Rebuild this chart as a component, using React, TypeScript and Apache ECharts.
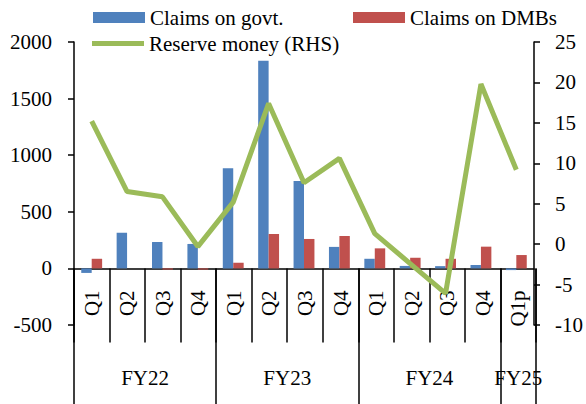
import React, { useEffect, useRef } from "react";
import * as echarts from "echarts";

const quarters = ["Q1", "Q2", "Q3", "Q4", "Q1", "Q2", "Q3", "Q4", "Q1", "Q2", "Q3", "Q4", "Q1p"];
const fyLabels = ["FY22", "FY23", "FY24", "FY25"];
const fyLabelPos = [2, 6, 10, 12.5];
const fyBoundaries = [0, 4, 8, 12, 13];
const quarterBoundaries = [0, 1, 2, 3, 4, 5, 6, 7, 8, 9, 10, 11, 12, 13];
const quarterLabelPos = [0.5, 1.5, 2.5, 3.5, 4.5, 5.5, 6.5, 7.5, 8.5, 9.5, 10.5, 11.5, 12.5];
const claimsGovt = [-40, 315, 233, 216, 885, 1835, 771, 190, 85, 22, 20, 30, -15];
const claimsDMBs = [85, 0, -10, -10, 50, 304, 260, 286, 177, 94, 85, 192, 118];
const reserveMoney = [15.2, 6.5, 5.85, -0.3, 5.2, 17.4, 7.6, 10.6, 1.3, -2.4, -6.1, 19.8, 9.2];

const FONT = "Liberation Serif";
const FS = 21;

export default function App() {
  const ref = useRef<HTMLDivElement>(null);
  useEffect(() => {
    if (!ref.current) return;
    const chart = echarts.init(ref.current, undefined, { renderer: "svg" });
    const textStyle = { fontFamily: FONT, fontSize: FS, color: "#000" };
    const legendBase = {
      orient: "horizontal",
      padding: 0,
      itemWidth: 52,
      itemHeight: 11,
      selectedMode: false,
      textStyle,
    };
    const blackLine = { color: "#000", width: 1.5 };
    chart.setOption({
      animation: false,
      textStyle: { fontFamily: FONT },
      legend: [
        { ...legendBase, data: [{ name: "Claims on govt.", icon: "rect" }], left: 93, top: 7 },
        { ...legendBase, data: [{ name: "Claims on DMBs", icon: "rect" }], left: 353, top: 7 },
        {
          ...legendBase,
          itemHeight: 5,
          data: [{ name: "Reserve money (RHS)", icon: "rect" }],
          left: 92,
          top: 33,
        },
      ],
      grid: [
        { left: 74, right: 50, top: 42, bottom: 79 },
        { left: 74, right: 50, top: 42, bottom: 135.6 },
        { left: 74, right: 50, top: 42, bottom: 135.6 },
      ],
      xAxis: [
        {
          type: "category",
          gridIndex: 0,
          data: quarters,
          axisLine: { onZero: true, onZeroAxisIndex: 0, lineStyle: blackLine },
          axisTick: { show: false },
          axisLabel: { show: false },
          splitLine: { show: false },
        },
        {
          type: "value",
          gridIndex: 1,
          min: 0,
          max: 13,
          position: "bottom",
          axisLine: { show: false, onZero: false },
          axisTick: { show: true, customValues: fyBoundaries, length: 136, lineStyle: blackLine },
          axisLabel: {
            customValues: fyLabelPos,
            margin: 99,
            ...textStyle,
            formatter: (v: number) => {
              const i = fyLabelPos.indexOf(v);
              return i >= 0 ? fyLabels[i] : "";
            },
          },
          splitLine: { show: false },
        },
        {
          type: "value",
          gridIndex: 2,
          min: 0,
          max: 13,
          position: "bottom",
          axisLine: { show: false, onZero: false },
          axisTick: { show: true, customValues: quarterBoundaries, length: 74, lineStyle: blackLine },
          axisLabel: {
            customValues: quarterLabelPos,
            rotate: 90,
            margin: 22,
            hideOverlap: false,
            ...textStyle,
            formatter: (v: number) => quarters[Math.floor(v)] ?? "",
          },
          splitLine: { show: false },
        },
      ],
      yAxis: [
        {
          type: "value",
          gridIndex: 0,
          position: "left",
          min: -500,
          max: 2000,
          interval: 500,
          axisLine: { show: true, lineStyle: blackLine },
          axisTick: { show: true, length: 6, lineStyle: blackLine },
          axisLabel: { margin: 22, ...textStyle, formatter: (v: number) => String(v) },
          splitLine: { show: false },
        },
        {
          type: "value",
          gridIndex: 0,
          position: "right",
          min: -10,
          max: 25,
          interval: 5,
          axisLine: { show: true, lineStyle: blackLine },
          axisTick: { show: true, length: 6, lineStyle: blackLine },
          axisLabel: { margin: 21, ...textStyle, formatter: (v: number) => String(v) },
          splitLine: { show: false },
        },
        { type: "value", gridIndex: 1, show: false, min: 0, max: 1, splitLine: { show: false } },
        { type: "value", gridIndex: 2, show: false, min: 0, max: 1, splitLine: { show: false } },
      ],
      series: [
        {
          name: "Claims on govt.",
          type: "bar",
          xAxisIndex: 0,
          yAxisIndex: 0,
          data: claimsGovt,
          itemStyle: { color: "#4F81BD" },
          barGap: "0%",
          barCategoryGap: "41%",
        },
        {
          name: "Claims on DMBs",
          type: "bar",
          xAxisIndex: 0,
          yAxisIndex: 0,
          data: claimsDMBs,
          itemStyle: { color: "#C0504D" },
          barGap: "0%",
          barCategoryGap: "41%",
        },
        {
          name: "Reserve money (RHS)",
          type: "line",
          xAxisIndex: 0,
          yAxisIndex: 1,
          data: reserveMoney,
          symbol: "none",
          showSymbol: false,
          lineStyle: { color: "#9BBB59", width: 5 },
          itemStyle: { color: "#9BBB59" },
          z: 5,
        },
      ],
    });
    return () => chart.dispose();
  }, []);
  return (
    <div
      ref={ref}
      style={{ position: "fixed", left: 0, top: 0, width: 586, height: 404, background: "#fff" }}
    />
  );
}
